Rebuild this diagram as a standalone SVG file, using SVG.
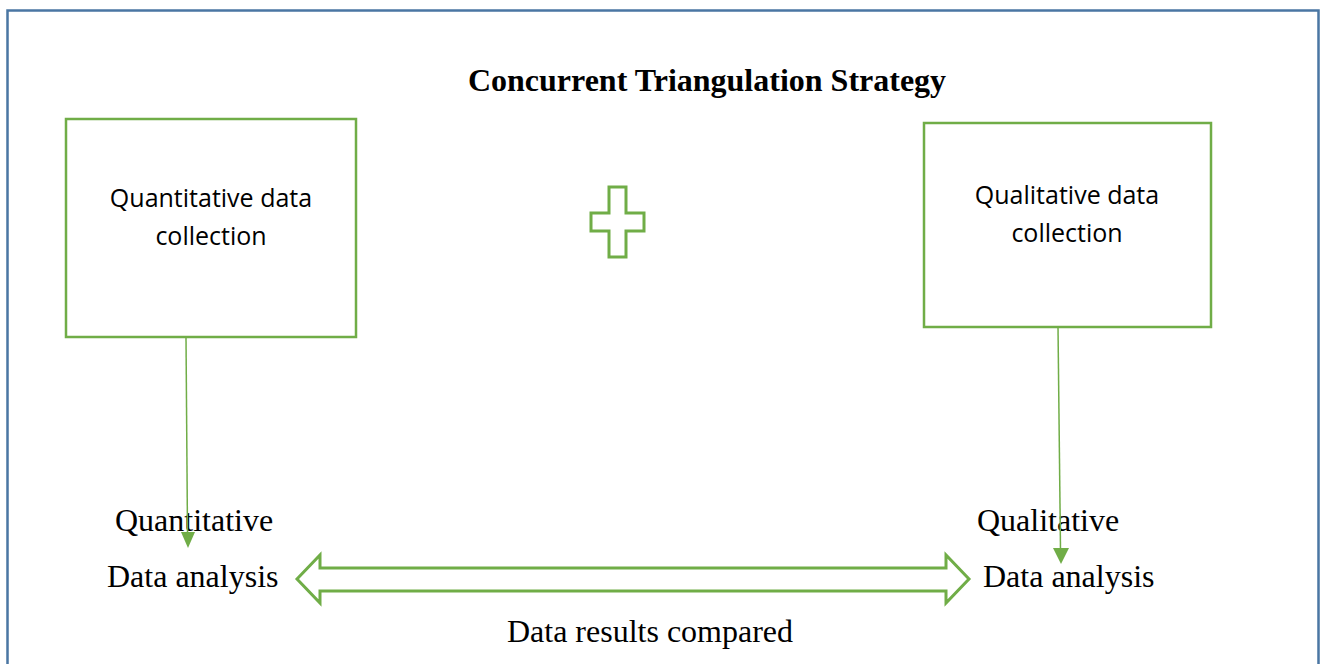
<svg xmlns="http://www.w3.org/2000/svg" width="1322" height="664" viewBox="0 0 1322 664">
<defs>
<style>
.box{fill:#fff;stroke:#70ad47;stroke-width:2.5}
.shape{fill:#fff;stroke:#70ad47;stroke-width:3}
.line{stroke:#70ad47;stroke-width:1.5;fill:none}
.head{fill:#70ad47}
.tt{font-family:"Liberation Serif","Times New Roman",serif;font-size:32px;fill:#000}
.bt{font-family:"Open Sans",sans-serif;font-size:25px;fill:#000;text-anchor:middle}
</style>
</defs>
<rect x="0" y="0" width="1322" height="664" fill="#fff"/>
<path d="M7.5 672 V10.5 H1318.5 V672" fill="none" stroke="#4a76a3" stroke-width="2.5"/>
<text class="tt" x="707" y="91" text-anchor="middle" font-weight="bold">Concurrent Triangulation Strategy</text>
<g id="quant-collection">
<rect class="box" x="66" y="119" width="290" height="218"/>
<text class="bt" x="211" y="207">Quantitative data</text>
<text class="bt" x="211" y="245">collection</text>
</g>
<g id="qual-collection">
<rect class="box" x="924" y="123" width="287" height="204"/>
<text class="bt" x="1067" y="204">Qualitative data</text>
<text class="bt" x="1067" y="242">collection</text>
</g>
<g id="plus">
<path class="shape" d="M609 187 H626 V213 H644 V231 H626 V257 H609 V231 H591 V213 H609 Z"/>
</g>
<g id="quant-analysis">
<text class="tt" x="115" y="531">Quantitative</text>
<text class="tt" x="107" y="587">Data analysis</text>
</g>
<g id="qual-analysis">
<text class="tt" x="977" y="531">Qualitative</text>
<text class="tt" x="983" y="587">Data analysis</text>
</g>
<g id="connectors">
<line class="line" x1="186" y1="337" x2="187.5" y2="533"/>
<path class="head" d="M181 532 H195 L188 548 Z"/>
<line class="line" x1="1058" y1="327" x2="1060.5" y2="549"/>
<path class="head" d="M1053 548 H1069 L1061 564 Z"/>
<path class="shape" d="M297 579 L320 555 V568 H946 V555 L969 579 L946 603 V591 H320 V603 Z"/>
<text class="tt" x="650" y="642" text-anchor="middle">Data results compared</text>
</g>
</svg>
